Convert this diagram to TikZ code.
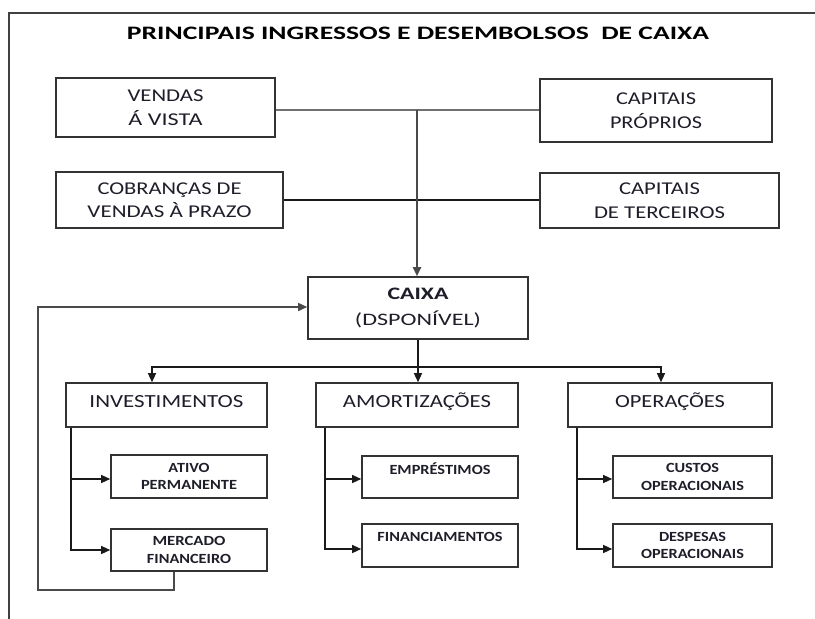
\documentclass[tikz,border=0pt]{standalone}
\usepackage{fontspec}
\setmainfont{Carlito}
\usepackage{graphicx}
\usetikzlibrary{arrows.meta}
\definecolor{ink}{HTML}{1E1E2A}
\definecolor{edge}{HTML}{333333}
\definecolor{conn}{HTML}{1A1A1A}
\definecolor{soft}{HTML}{707070}
\definecolor{framec}{HTML}{404040}
\definecolor{fbcol}{HTML}{4A4A4A}
\newcommand{\tw}[2]{\resizebox{#1pt}{\height}{#2}}
\begin{document}
\begin{tikzpicture}[x=1pt,y=-1pt,
  box/.style={draw=edge, line width=1.6pt, inner sep=0pt, align=center, text=ink},
  bigtxt/.style={font=\fontsize{18}{23.5}\selectfont},
  midtxt/.style={font=\fontsize{18.5}{22}\selectfont, text height=12pt, text depth=8pt},
  smalltxt/.style={font=\fontsize{14}{17.5}\selectfont\bfseries},
  arr/.style={draw=conn, line width=1.3pt, -{Triangle[length=9pt,width=8pt]}},
  ln/.style={draw=conn, line width=1.3pt},
  grayln/.style={draw=soft, line width=2.2pt},
]
\useasboundingbox (0,0) rectangle (815,619);
\fill[white] (0,0) rectangle (815,619);

% frame
\draw[draw=framec, line width=1.4pt] (815,13) -- (9,13) -- (9,619);

% title
\node[text=black, font=\fontsize{19}{23}\selectfont\bfseries, inner sep=0pt] (title) at (418,33)
  {\tw{582}{PRINCIPAIS INGRESSOS E DESEMBOLSOS~ DE CAIXA}};

% top sources
\node[box,bigtxt,minimum width=219pt,minimum height=59pt] (vendas) at (165.5,107.5)
  {\tw{76}{VENDAS}\\\tw{74}{Á VISTA}};
\node[box,bigtxt,minimum width=232pt,minimum height=63pt] (cprop) at (656,110.5)
  {\tw{80}{CAPITAIS}\\\tw{92}{PRÓPRIOS}};
\node[box,bigtxt,minimum width=227pt,minimum height=56pt] (cobr) at (169.5,200)
  {\tw{144}{COBRANÇAS DE}\\\tw{164}{VENDAS À PRAZO}};
\node[box,bigtxt,minimum width=239pt,minimum height=55pt] (cterc) at (659.5,200.5)
  {\tw{81}{CAPITAIS}\\\tw{131}{DE TERCEIROS}};

% caixa
\node[box,minimum width=220pt,minimum height=62pt,font=\fontsize{17.5}{26}\selectfont] (caixa) at (418,308)
  {\tw{61}{\bfseries CAIXA}\\\tw{126}{(DSPONÍVEL)}};

% middle tier
\node[box,midtxt,minimum width=201pt,minimum height=44pt] (invest) at (166.5,405) {\tw{154}{INVESTIMENTOS}};
\node[box,midtxt,minimum width=202pt,minimum height=44pt] (amort) at (417,405) {\tw{148}{AMORTIZAÇÕES}};
\node[box,midtxt,minimum width=204pt,minimum height=44pt] (oper) at (670,405) {\tw{110}{OPERAÇÕES}};

% bottom tier
\node[box,smalltxt,minimum width=156pt,minimum height=43pt] (ativo) at (189,476.5)
  {\tw{41}{ATIVO}\\\tw{96}{PERMANENTE}};
\node[box,smalltxt,minimum width=156pt,minimum height=42pt] (merc) at (189,550)
  {\tw{73}{MERCADO}\\\tw{84}{FINANCEIRO}};
\node[box,smalltxt,minimum width=156pt,minimum height=42pt] (empr) at (440,477)
  {\tw{101}{EMPRÉSTIMOS}\\\phantom{X}};
\node[box,smalltxt,minimum width=156pt,minimum height=43pt] (finan) at (440,545.5)
  {\tw{125}{FINANCIAMENTOS}\\\phantom{X}};
\node[box,smalltxt,minimum width=159pt,minimum height=42pt] (custos) at (692.5,477)
  {\tw{53}{CUSTOS}\\\tw{103}{OPERACIONAIS}};
\node[box,smalltxt,minimum width=159pt,minimum height=43pt] (desp) at (692.5,545.5)
  {\tw{67}{DESPESAS}\\\tw{103}{OPERACIONAIS}};

% inflow connectors
\coordinate (j1) at (417,110);
\coordinate (j2) at (417,200);
\draw[grayln] (vendas.east |- j1) -- (cprop.west |- j1);
\draw[ln] (cobr.east |- j2) -- (cterc.west |- j2);
\draw[arr, draw=fbcol, line width=1.8pt] (j1) -- (j1 |- caixa.north);

% distribution
\coordinate (d) at (418,367);
\draw[ln] (caixa.south) -- (d);
\draw[arr] (d) -| ([xshift=-14.5pt]invest.north);
\draw[arr] (d) -| ([xshift=-9pt]oper.north);
\draw[arr] (d) -- (d |- amort.north);

% branches
\coordinate (ib) at ([xshift=-95.5pt]invest.south);
\draw[arr] (ib) |- ([yshift=-2.5pt]ativo.west);
\draw[arr] (ib) |- (merc.west);
\coordinate (ab) at ([xshift=-92pt]amort.south);
\draw[arr] (ab) |- ([yshift=-2pt]empr.west);
\draw[arr] (ab) |- ([yshift=-3.5pt]finan.west);
\coordinate (ob) at ([xshift=-93pt]oper.south);
\draw[arr] (ob) |- ([yshift=-2pt]custos.west);
\draw[arr] (ob) |- ([yshift=-3.5pt]desp.west);

% feedback loop
\coordinate (fb1) at (38,590);
\coordinate (fb2) at (38,307);
\draw[arr, draw=fbcol, line width=1.5pt] ([xshift=-15pt]merc.south) |- (fb1) -- (fb2) -- (fb2 -| caixa.west);
\end{tikzpicture}
\end{document}
